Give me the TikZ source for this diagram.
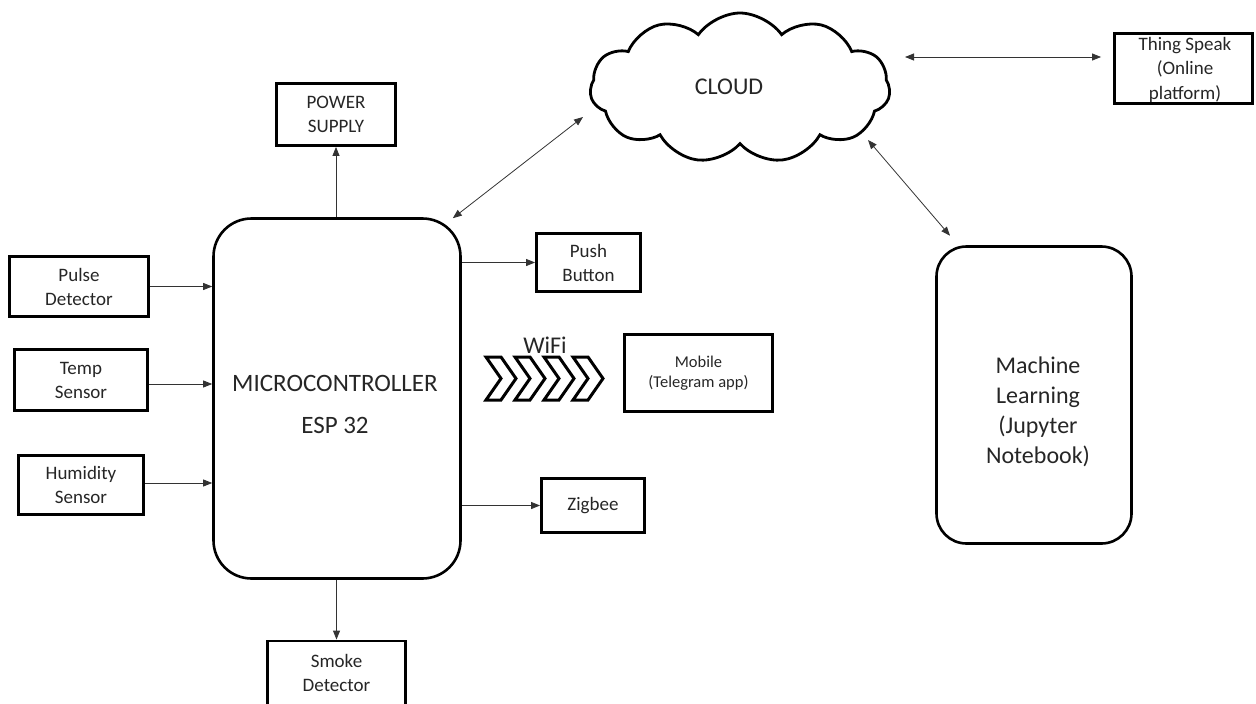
\documentclass[tikz,border=0pt]{standalone}
\usepackage{fontspec}
\setmainfont{Carlito}
\usetikzlibrary{shapes.symbols,arrows.meta}
\begin{document}
\begin{tikzpicture}[x=1pt,y=-1pt,
  box/.style={draw=black, line width=2.8pt, inner sep=0pt, align=center, text=black!85, font=\fontsize{19}{24}\selectfont},
  rbox/.style={draw=black, line width=2.6pt, rounded corners=#1, inner sep=0pt},
  arr/.style={line width=0.8pt, draw=black!80, -{Triangle[length=9pt,width=7pt]}},
  darr/.style={line width=0.8pt, draw=black!80, {Triangle[length=9pt,width=7pt]}-{Triangle[length=9pt,width=7pt]}},
  lbl/.style={text=black!85, align=center, inner sep=0pt},
  chev/.style={draw=black, line width=3pt, fill=white, line join=miter}
]
\useasboundingbox (0,0) rectangle (1256,704);

% boxes
\node[box, minimum width=119pt, minimum height=62pt] (power) at (336,114.5) {POWER\\SUPPLY};
\node[rbox=38pt, minimum width=247pt, minimum height=360pt] (mcu) at (337,398.5) {};
\node[lbl, font=\fontsize{25}{42}\selectfont] (mcutxt) at (335,404) {MICROCONTROLLER\\ESP 32};
\node[box, minimum width=139pt, minimum height=60pt] (pulse) at (79,286.5) {Pulse\\Detector};
\node[box, minimum width=133pt, minimum height=61pt] (temp) at (81,380) {Temp\\Sensor};
\node[box, minimum width=125pt, minimum height=59pt] (humid) at (81,485) {Humidity\\Sensor};
\node[box, minimum width=104pt, minimum height=58pt] (push) at (588.5,262.5) {Push\\Button};
\node[box, minimum width=148pt, minimum height=77pt, font=\fontsize{16.5}{20}\selectfont] (mobile) at (698.5,373) {Mobile\\(Telegram app)};
\node[box, minimum width=103pt, minimum height=54pt] (zigbee) at (593,505.5) {Zigbee};
\node[box, minimum width=138pt, minimum height=64pt] (smoke) at (336.5,673) {Smoke\\Detector};
\node[box, minimum width=138pt, minimum height=70pt] (thing) at (1183.5,68.5) {};
\node[lbl, font=\fontsize{19}{24.5}\selectfont] (thingtxt) at (1185,69.5) {Thing Speak\\(Online\\platform)};
\node[rbox=30pt, minimum width=195pt, minimum height=297pt] (ml) at (1034,395) {};
\node[lbl, font=\fontsize{24}{30}\selectfont] (mltxt) at (1038,412) {Machine\\Learning\\(Jupyter\\Notebook)};

% cloud
\node[cloud, draw=black, line width=2.8pt, cloud puffs=11, cloud puff arc=110, aspect=2,
      minimum width=300pt, minimum height=150pt, inner sep=0pt] (cloud) at (740,88) {};
\node[lbl, font=\fontsize{24}{28}\selectfont] (cloudtxt) at (729,87) {CLOUD};

% WiFi
\node[lbl, font=\fontsize{24}{28}\selectfont] (wifi) at (545,345) {WiFi};
\foreach \i in {0,...,3} {
  \draw[chev] ({486+29*\i},357) -- ++(15,0) -- ++(15,21.5) -- ++(-15,21.5) -- ++(-15,0) -- ++(15,-21.5) -- cycle;
}

% connectors
\draw[arr] (pulse.east) -- (pulse.east -| mcu.west);
\draw[arr] ([shift={(0,4)}]temp.east) -- ([shift={(0,4)}]temp.east -| mcu.west);
\draw[arr] ([shift={(0,-2)}]humid.east) -- ([shift={(0,-2)}]humid.east -| mcu.west);
\draw[arr] (push.west -| mcu.east) -- (push.west);
\draw[arr] (zigbee.west -| mcu.east) -- (zigbee.west);
\draw[arr] (power.south |- mcu.north) -- (power.south);
\draw[arr] (smoke.north |- mcu.south) -- (smoke.north);
\draw[darr] ([shift={(-9,1)}]mcu.north east) -- ([shift={(-157,29)}]cloud.center);
\draw[darr] ([shift={(165,-31)}]cloud.center) -- ([shift={(-12,-11.5)}]thing.west);
\draw[darr] ([shift={(128,52)}]cloud.center) -- ([shift={(-84,-9.5)}]ml.north);
\end{tikzpicture}
\end{document}
